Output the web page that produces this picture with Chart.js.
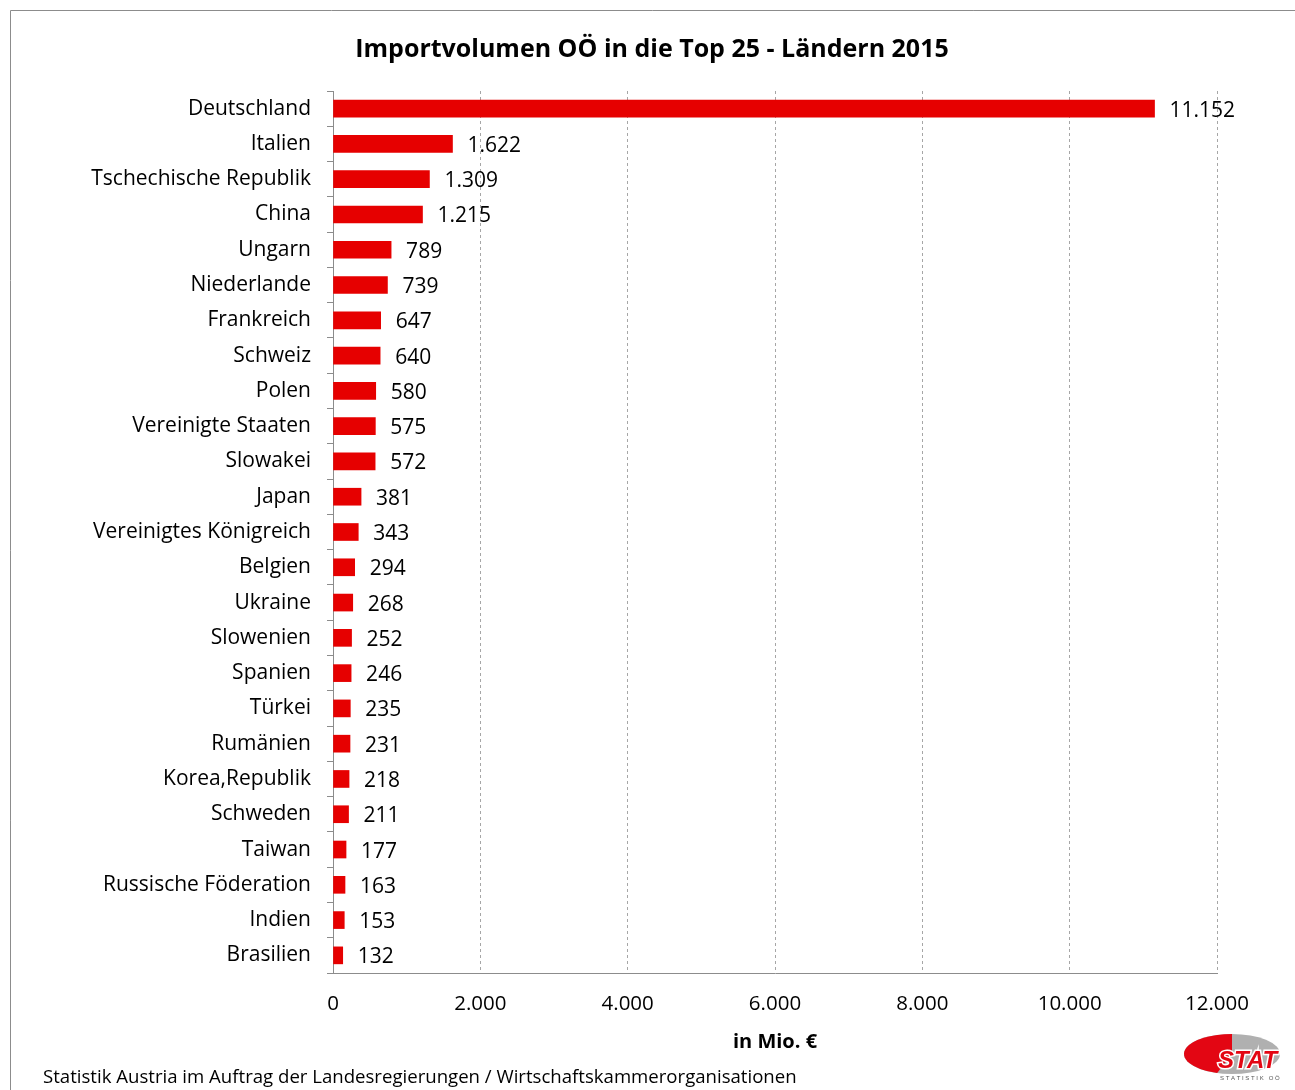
<!DOCTYPE html>
<html>
<head>
<meta charset="utf-8">
<script src="https://cdn.jsdelivr.net/npm/chart.js@4/dist/chart.umd.min.js"></script>
<style>
  html, body { margin: 0; padding: 0; background: #fff; }
  #wrap { width: 1295px; height: 1090px; }
</style>
</head>
<body>
<div id="wrap"><canvas id="importChart" width="1295" height="1090"></canvas></div>
<script>
var laender = ['Deutschland', 'Italien', 'Tschechische Republik', 'China', 'Ungarn', 'Niederlande',
  'Frankreich', 'Schweiz', 'Polen', 'Vereinigte Staaten', 'Slowakei', 'Japan',
  'Vereinigtes Königreich', 'Belgien', 'Ukraine', 'Slowenien', 'Spanien', 'Türkei',
  'Rumänien', 'Korea,Republik', 'Schweden', 'Taiwan', 'Russische Föderation', 'Indien', 'Brasilien'];
var importWerte = [11152, 1622, 1309, 1215, 789, 739, 647, 640, 580, 575, 572, 381,
  343, 294, 268, 252, 246, 235, 231, 218, 211, 177, 163, 153, 132];
var xTicks = [0, 2000, 4000, 6000, 8000, 10000, 12000];

var titel = 'Importvolumen OÖ in die Top 25 - Ländern 2015';
var achsenTitel = 'in Mio. €';
var quelle = 'Statistik Austria im Auftrag der Landesregierungen / Wirtschaftskammerorganisationen';

var schrift = '"Open Sans", Lato, sans-serif';

// Tausenderpunkt wie im Original
function fmt(v) {
  return String(v).replace(/\B(?=(\d{3})+(?!\d))/g, '.');
}

var extrasPlugin = {
  id: 'extras',
  beforeDraw: function(chart) {
    var ctx = chart.ctx;
    ctx.save();
    ctx.fillStyle = '#fff';
    ctx.fillRect(0, 0, chart.width, chart.height);
    // Rahmen oben/links
    ctx.strokeStyle = '#8c8c8c';
    ctx.lineWidth = 1;
    ctx.beginPath();
    ctx.moveTo(10.5, chart.height);
    ctx.lineTo(10.5, 10.5);
    ctx.lineTo(chart.width, 10.5);
    ctx.stroke();
    // Titel
    ctx.font = 'bold 25px ' + schrift;
    ctx.fillStyle = '#000';
    ctx.textAlign = 'center';
    ctx.textBaseline = 'middle';
    ctx.fillText(titel, 652, 50);
    ctx.restore();
  },
  afterDatasetsDraw: function(chart) {
    var ctx = chart.ctx;
    var meta = chart.getDatasetMeta(0);
    ctx.save();
    ctx.font = '21px ' + schrift;
    ctx.fillStyle = '#000';
    ctx.textBaseline = 'middle';
    ctx.textAlign = 'left';
    meta.data.forEach(function(bar, i) {
      ctx.fillText(fmt(importWerte[i]), bar.x + 15, bar.y + 2);
    });
    ctx.restore();
  },
  afterDraw: function(chart) {
    var ctx = chart.ctx;
    ctx.save();
    // Quelle
    ctx.font = '18.6px ' + schrift;
    ctx.fillStyle = '#000';
    ctx.textBaseline = 'middle';
    ctx.fillText(quelle, 43, 1078);

    // kleines Logo
    var cx = 1232, cy = 1054;
    ctx.fillStyle = '#b0b0b0';
    ctx.beginPath();
    ctx.ellipse(cx, cy, 48, 20, 0, 0, Math.PI * 2);
    ctx.fill();
    ctx.fillStyle = '#e30613';
    ctx.beginPath();
    ctx.moveTo(cx, cy);
    ctx.ellipse(cx, cy, 48, 20, 0, Math.PI * 0.6, Math.PI * 1.5);
    ctx.closePath();
    ctx.fill();
    ctx.font = 'bold italic 24px "Liberation Sans", sans-serif';
    ctx.lineWidth = 3;
    ctx.strokeStyle = '#fff';
    ctx.strokeText('STAT', 1218, 1061);
    ctx.fillStyle = '#e30613';
    ctx.fillText('STAT', 1218, 1061);
    ctx.font = '6px "Liberation Sans", sans-serif';
    ctx.fillStyle = '#555';
    ctx.fillText('S T A T I S T I K   O Ö', 1220, 1078);
    ctx.restore();
  }
};

new Chart(document.getElementById('importChart'), {
  type: 'bar',
  data: {
    labels: laender,
    datasets: [{
      data: importWerte,
      backgroundColor: '#e60000',
      borderWidth: 0,
      barThickness: 17
    }]
  },
  options: {
    responsive: false,
    animation: false,
    indexAxis: 'y',
    layout: { padding: { top: 91, left: 10, right: 78, bottom: 28 } },
    plugins: {
      legend: { display: false },
      tooltip: { enabled: false },
      title: { display: false }
    },
    scales: {
      x: {
        min: 0,
        max: 12000,
        afterBuildTicks: function(scale) {
          scale.ticks = xTicks.map(function(v) { return { value: v }; });
        },
        afterFit: function(scale) { scale.height = 89; },
        grid: {
          color: '#a6a6a6',
          drawTicks: false,
          tickLength: 0
        },
        border: { display: true, color: '#8c8c8c', dash: [3, 3] },
        ticks: {
          color: '#000',
          padding: 19,
          font: { family: schrift, size: 20.5 },
          callback: function(v) { return fmt(v); }
        },
        title: {
          display: true,
          text: achsenTitel,
          color: '#000',
          font: { family: schrift, size: 20, weight: 'bold' },
          padding: { top: 4, bottom: 8 }
        }
      },
      y: {
        afterFit: function(scale) { scale.width = 323; },
        grid: {
          offset: true,
          drawOnChartArea: false,
          drawTicks: true,
          tickLength: 6,
          color: '#8c8c8c'
        },
        border: { display: true, color: '#8c8c8c' },
        ticks: {
          color: '#000',
          padding: 16,
          font: { family: schrift, size: 21 }
        }
      }
    }
  },
  plugins: [extrasPlugin]
});
</script>
</body>
</html>
